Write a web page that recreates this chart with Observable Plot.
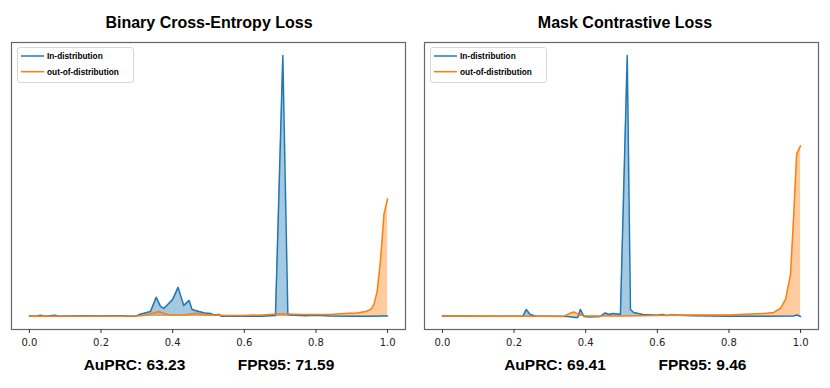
<!DOCTYPE html>
<html>
<head>
<meta charset="utf-8">
<script src="https://cdn.jsdelivr.net/npm/d3@7"></script>
<script src="https://cdn.jsdelivr.net/npm/@observablehq/plot@0.6"></script>
<style>
  html, body { margin: 0; padding: 0; background: #fff; }
  #wrap { position: relative; width: 830px; height: 388px; overflow: hidden; }
  #wrap > svg, #wrap > div { position: absolute; top: 0; }
</style>
</head>
<body>
<div id="wrap"></div>
<script>
// ---------- data (density, arbitrary units) ----------
const titles = ["Binary Cross-Entropy Loss", "Mask Contrastive Loss"];
const aupcrLabels = ["AuPRC: 63.23", "AuPRC: 69.41"];
const fprLabels = ["FPR95: 71.59", "FPR95: 9.46"];
const seriesNames = ["In-distribution", "out-of-distribution"];
const xTicks = [0, 0.2, 0.4, 0.6, 0.8, 1.0];

// Binary Cross-Entropy, in-distribution
const bceIdX = [0.0, 0.02, 0.03, 0.045, 0.07, 0.085, 0.16, 0.2, 0.24, 0.26, 0.28, 0.30, 0.305, 0.338, 0.354, 0.366, 0.375, 0.389, 0.40, 0.415, 0.431, 0.446, 0.454, 0.473, 0.49, 0.506, 0.515, 0.529, 0.535, 0.56, 0.6, 0.65, 0.687, 0.7075, 0.7215, 0.73, 0.77, 0.8, 0.84, 0.9, 0.95, 0.99, 1.0];
const bceIdY = [0.05, 0.03, 0.12, 0.02, 0.12, 0.02, 0.06, 0.04, 0.08, 0.08, 0.02, 0.05, 0.17, 0.5, 1.9, 1.0, 0.8, 1.3, 1.7, 2.9, 1.1, 1.6, 0.7, 0.5, 0.35, 0.3, 0.15, 0.2, 0.03, 0.02, 0.02, 0.03, 0.1, 26.0, 0.2, 0.15, 0.08, 0.12, 0.05, 0.03, 0.03, 0.05, 0.05];
// Binary Cross-Entropy, out-of-distribution
const bceOodX = [0.0, 0.3, 0.32, 0.338, 0.361, 0.38, 0.394, 0.43, 0.464, 0.496, 0.55, 0.6, 0.65, 0.69, 0.72, 0.76, 0.84, 0.88, 0.915, 0.94, 0.953, 0.962, 0.971, 0.98, 0.99, 1.0];
const bceOodY = [0.03, 0.05, 0.1, 0.25, 0.5, 0.25, 0.15, 0.15, 0.33, 0.17, 0.1, 0.1, 0.15, 0.25, 0.25, 0.2, 0.2, 0.3, 0.35, 0.5, 0.7, 1.2, 2.5, 5.5, 10.2, 11.7];
// Mask Contrastive, in-distribution
const mclIdX = [0.0, 0.1, 0.2, 0.225, 0.234, 0.245, 0.26, 0.3, 0.35, 0.37, 0.378, 0.385, 0.395, 0.41, 0.44, 0.455, 0.465, 0.476, 0.49, 0.497, 0.516, 0.525, 0.534, 0.56, 0.6, 0.615, 0.625, 0.64, 0.7, 0.8, 0.9, 0.98, 0.99, 1.0];
const mclIdY = [0.05, 0.03, 0.02, 0.03, 0.7, 0.2, 0.05, 0.03, 0.0, -0.1, -0.1, 0.7, 0.0, -0.05, 0.0, 0.35, 0.2, 0.3, 0.25, 0.2, 26.0, 0.7, 0.4, 0.2, 0.12, 0.2, 0.1, 0.15, 0.08, 0.03, 0.02, 0.05, 0.15, 0.0];
// Mask Contrastive, out-of-distribution
const mclOodX = [0.0, 0.2, 0.34, 0.355, 0.367, 0.38, 0.4, 0.5, 0.6, 0.7, 0.8, 0.83, 0.9, 0.925, 0.944, 0.958, 0.972, 0.981, 0.989, 1.0];
const mclOodY = [0.05, 0.03, 0.03, 0.3, 0.45, 0.2, 0.05, 0.05, 0.1, 0.15, 0.15, 0.2, 0.3, 0.4, 0.8, 1.7, 4.2, 10.2, 16.2, 17.0];

const panels = [
  {id: d3.zip(bceIdX, bceIdY).map(([x, y]) => ({x, y})), ood: d3.zip(bceOodX, bceOodY).map(([x, y]) => ({x, y}))},
  {id: d3.zip(mclIdX, mclIdY).map(([x, y]) => ({x, y})), ood: d3.zip(mclOodX, mclOodY).map(([x, y]) => ({x, y}))}
];

const BLUE = "#1f77b4", ORANGE = "#ff7f0e";
const wrap = document.getElementById("wrap");
const panelLeft = [0, 413];

panels.forEach((p, i) => {
  const chart = Plot.plot({
    width: 415,
    height: 388,
    marginLeft: 11,
    marginRight: 10,
    marginTop: 42,
    marginBottom: 59,
    style: {fontFamily: "'DejaVu Sans', sans-serif", fontSize: "10px", color: "#222", background: "transparent"},
    x: {domain: [-0.05, 1.05], label: null},
    y: {domain: [-1.3, 27.3], axis: null},
    marks: [
      Plot.areaY(p.id, {x: "x", y: "y", fill: BLUE, fillOpacity: 0.4}),
      Plot.areaY(p.ood, {x: "x", y: "y", fill: ORANGE, fillOpacity: 0.4}),
      Plot.lineY(p.id, {x: "x", y: "y", stroke: BLUE, strokeWidth: 1.5}),
      Plot.lineY(p.ood, {x: "x", y: "y", stroke: ORANGE, strokeWidth: 1.5}),
      Plot.frame({stroke: "#666", strokeWidth: 1.2}),
      Plot.axisX({ticks: xTicks, tickFormat: d3.format(".1f"), tickSize: 4, tickPadding: 5, label: null, stroke: "#333", fill: "#222"})
    ]
  });
  chart.style.left = panelLeft[i] + "px";
  wrap.appendChild(chart);
});

// ---------- titles, metrics and legends (overlay) ----------
const ov = d3.select(wrap).append("svg")
  .attr("width", 830).attr("height", 388)
  .style("left", "0px")
  .style("font-family", "'Liberation Sans', Arial, sans-serif");

const titleX = [209, 625];
const aupX = [134.5, 555];
const fprX = [286, 702.5];
titles.forEach((t, i) => {
  ov.append("text").attr("x", titleX[i]).attr("y", 28).attr("text-anchor", "middle")
    .attr("font-size", 16).attr("font-weight", "bold").attr("fill", "#000").text(t);
  ov.append("text").attr("x", aupX[i]).attr("y", 369.5).attr("text-anchor", "middle")
    .attr("font-size", 15.5).attr("font-weight", "bold").attr("fill", "#000").text(aupcrLabels[i]);
  ov.append("text").attr("x", fprX[i]).attr("y", 369.5).attr("text-anchor", "middle")
    .attr("font-size", 15.5).attr("font-weight", "bold").attr("fill", "#000").text(fprLabels[i]);

  const lx = 17 + panelLeft[i];
  const g = ov.append("g");
  g.append("rect").attr("x", lx + 0.5).attr("y", 47.5).attr("width", 116).attr("height", 35)
    .attr("rx", 2.5).attr("fill", "#fff").attr("fill-opacity", 0.8).attr("stroke", "#d8d8d8").attr("stroke-width", 1);
  [BLUE, ORANGE].forEach((c, k) => {
    const yy = 56 + k * 15.7;
    g.append("line").attr("x1", lx + 4).attr("x2", lx + 27).attr("y1", yy).attr("y2", yy)
      .attr("stroke", c).attr("stroke-width", 1.5);
    g.append("text").attr("x", lx + 30).attr("y", yy + 3).attr("font-size", 8.3).attr("font-weight", "bold")
      .attr("fill", "#000").text(seriesNames[k]);
  });
});
</script>
</body>
</html>
